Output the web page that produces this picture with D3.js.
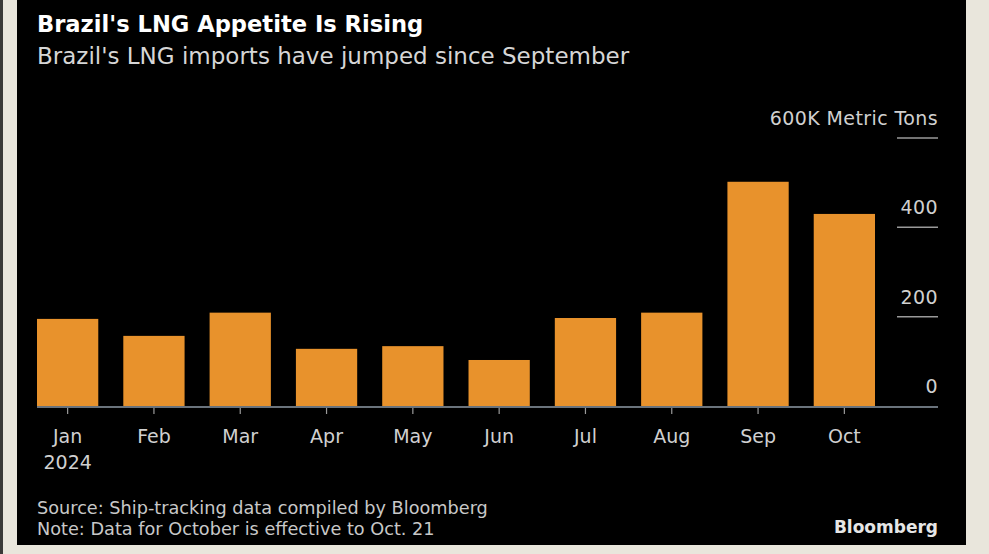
<!DOCTYPE html>
<html>
<head>
<meta charset="utf-8">
<script src="https://cdn.jsdelivr.net/npm/d3@7"></script>
<style>
  body { margin: 0; background: #e9e6dc; }
  svg { display: block; }
</style>
</head>
<body>
<svg width="989" height="554"></svg>
<script>
// data (thousand metric tons)
var months = ["Jan", "Feb", "Mar", "Apr", "May", "Jun", "Jul", "Aug", "Sep", "Oct"];
var imports = [195, 157, 209, 128, 134, 103, 197, 209, 502, 430];
var yTicks = [0, 200, 400, 600];

var svg = d3.select("svg");
var font = "'DejaVu Sans', 'Liberation Sans', sans-serif";

// black panel inside the beige frame
svg.append("rect").attr("x", 0).attr("y", 0).attr("width", 3).attr("height", 554).attr("fill", "#3a3a38");
svg.append("rect")
    .attr("x", 17).attr("y", 0)
    .attr("width", 949).attr("height", 545)
    .attr("fill", "#000");

var x = d3.scaleBand()
    .domain(months)
    .range([37, 875])
    .paddingInner(0.29)
    .paddingOuter(0);

var y = d3.scaleLinear()
    .domain([0, 600])
    .range([406, 138]);

// title + subtitle
svg.append("text")
    .attr("x", 37).attr("y", 32)
    .attr("font-family", font).attr("font-weight", "bold")
    .attr("font-size", "22.6px").attr("fill", "#fff")
    .text("Brazil's LNG Appetite Is Rising");

svg.append("text")
    .attr("x", 37).attr("y", 64)
    .attr("font-family", font)
    .attr("font-size", "23px").attr("fill", "#d6d6d6")
    .text("Brazil's LNG imports have jumped since September");

// short gridlines on the right with labels
var grid = svg.append("g").selectAll("g")
    .data(yTicks.filter(d => d > 0))
    .join("g");

grid.append("line")
    .attr("x1", 897).attr("x2", 938)
    .attr("y1", d => y(d)).attr("y2", d => y(d))
    .attr("stroke", "#9a9a9a").attr("stroke-width", 1.5);

svg.append("g").selectAll("text")
    .data(yTicks)
    .join("text")
    .attr("x", 938)
    .attr("y", d => y(d) - 13)
    .attr("text-anchor", "end")
    .attr("font-family", font).attr("font-size", "19px")
    .attr("letter-spacing", "0.4px")
    .attr("fill", "#d0d0d0")
    .text(d => d == 600 ? "600K Metric Tons" : d);

// bars
svg.append("g").selectAll("rect")
    .data(imports)
    .join("rect")
    .attr("x", (d, i) => x(months[i]))
    .attr("y", d => y(d))
    .attr("width", x.bandwidth())
    .attr("height", d => y(0) - y(d))
    .attr("fill", "#e8922c");

// baseline
svg.append("line")
    .attr("x1", 37).attr("x2", 938)
    .attr("y1", y(0) + 1).attr("y2", y(0) + 1)
    .attr("stroke", "#8e9aa6").attr("stroke-width", 1.5);

// x axis ticks and labels
var xAxis = svg.append("g").selectAll("g")
    .data(months)
    .join("g")
    .attr("transform", d => `translate(${x(d) + x.bandwidth() / 2},0)`);

xAxis.append("line")
    .attr("y1", y(0) + 2).attr("y2", y(0) + 8)
    .attr("stroke", "#9a9a9a").attr("stroke-width", 1.2);

xAxis.append("text")
    .attr("y", 443)
    .attr("text-anchor", "middle")
    .attr("font-family", font).attr("font-size", "19px")
    .attr("fill", "#d0d0d0")
    .text(d => d);

svg.append("text")
    .attr("x", x("Jan") + x.bandwidth() / 2).attr("y", 469)
    .attr("text-anchor", "middle")
    .attr("font-family", font).attr("font-size", "19px")
    .attr("fill", "#d0d0d0")
    .text("2024");

// footer
svg.append("text")
    .attr("x", 37).attr("y", 514)
    .attr("font-family", font).attr("font-size", "17.7px")
    .attr("fill", "#c8c8c8")
    .text("Source: Ship-tracking data compiled by Bloomberg");

svg.append("text")
    .attr("x", 37).attr("y", 535)
    .attr("font-family", font).attr("font-size", "17.7px")
    .attr("fill", "#c8c8c8")
    .text("Note: Data for October is effective to Oct. 21");

svg.append("text")
    .attr("x", 938).attr("y", 533)
    .attr("text-anchor", "end")
    .attr("font-family", font).attr("font-weight", "bold")
    .attr("font-size", "17px").attr("fill", "#e6e6e6")
    .text("Bloomberg");
</script>
</body>
</html>
